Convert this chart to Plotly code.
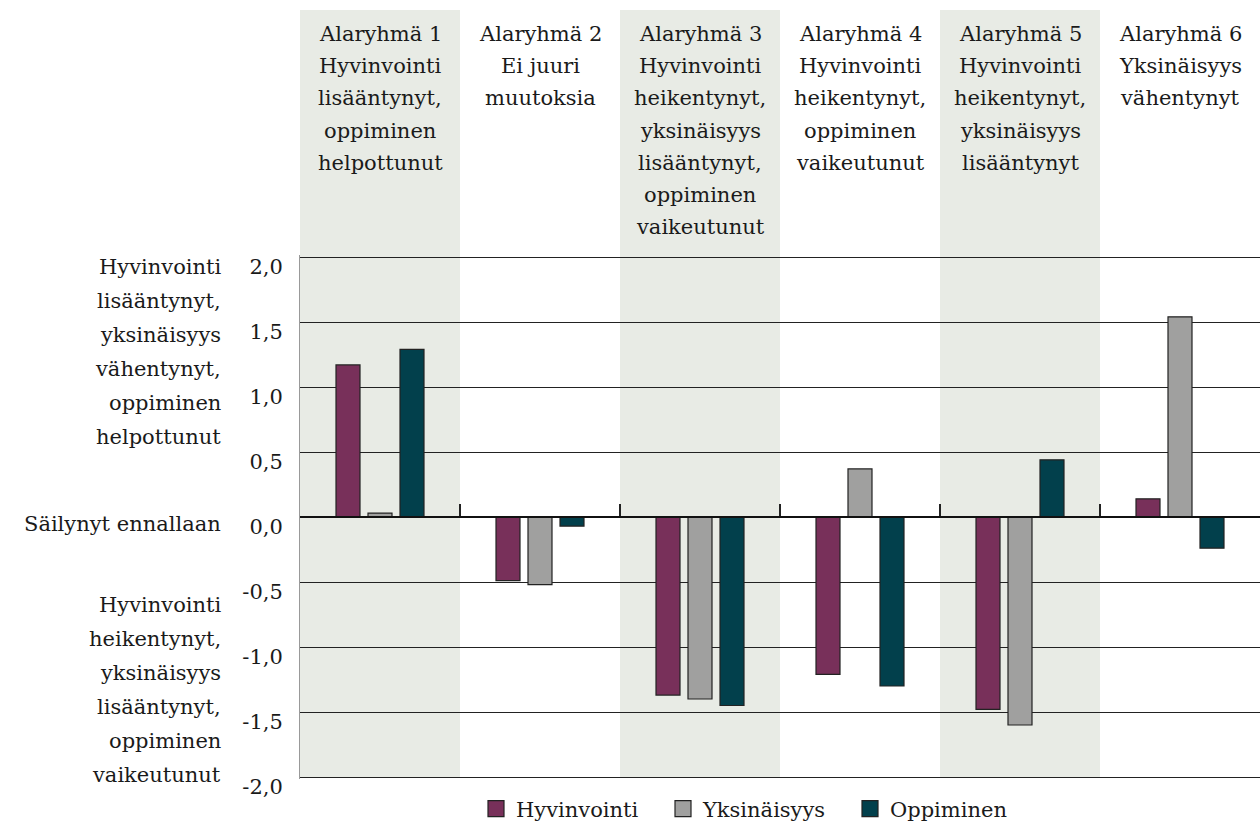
import plotly.graph_objects as go

# ---- data ----
groups = ["Alaryhmä 1", "Alaryhmä 2", "Alaryhmä 3", "Alaryhmä 4", "Alaryhmä 5", "Alaryhmä 6"]
header_lines = [
    ["Alaryhmä 1", "Hyvinvointi", "lisääntynyt,", "oppiminen", "helpottunut"],
    ["Alaryhmä 2", "Ei juuri", "muutoksia"],
    ["Alaryhmä 3", "Hyvinvointi", "heikentynyt,", "yksinäisyys", "lisääntynyt,", "oppiminen", "vaikeutunut"],
    ["Alaryhmä 4", "Hyvinvointi", "heikentynyt,", "oppiminen", "vaikeutunut"],
    ["Alaryhmä 5", "Hyvinvointi", "heikentynyt,", "yksinäisyys", "lisääntynyt"],
    ["Alaryhmä 6", "Yksinäisyys", "vähentynyt"],
]
series_names = ["Hyvinvointi", "Yksinäisyys", "Oppiminen"]
hyvinvointi = [1.17, -0.49, -1.37, -1.21, -1.48, 0.14]
yksinaisyys = [0.03, -0.52, -1.40, 0.37, -1.60, 1.54]
oppiminen = [1.29, -0.07, -1.45, -1.30, 0.44, -0.24]
series_values = [hyvinvointi, yksinaisyys, oppiminen]
series_colors = ["#78305A", "#A0A09F", "#02404C"]

y_ticks = [-2.0, -1.5, -1.0, -0.5, 0.0, 0.5, 1.0, 1.5, 2.0]
y_tick_labels = ["-2,0", "-1,5", "-1,0", "-0,5", "0,0", "0,5", "1,0", "1,5", "2,0"]
upper_label = ["Hyvinvointi", "lisääntynyt,", "yksinäisyys", "vähentynyt,", "oppiminen", "helpottunut"]
middle_label = ["Säilynyt ennallaan"]
lower_label = ["Hyvinvointi", "heikentynyt,", "yksinäisyys", "lisääntynyt,", "oppiminen", "vaikeutunut"]

# ---- layout constants (absolute page pixels) ----
W, H = 1260, 825
UNIT = 130.0                 # pixels per 1.0 on the value axis
PAD = 2                      # plot area extends 2px beyond the +/-2 gridlines
PLOT_L, PLOT_R = 300, 1260
PLOT_T, PLOT_B = 257 - PAD, 777 + PAD
ML, MR, MT, MB = PLOT_L, W - PLOT_R, PLOT_T, H - PLOT_B
PH = PLOT_B - PLOT_T
PW = PLOT_R - PLOT_L
Y_EXT = 2.0 + PAD / UNIT
FONT = "DejaVu Serif"
FS = 21
TXT = "#1a1a1a"
BAND = "#E8EBE5"


def py(p):
    """absolute page pixel y -> paper y"""
    return (PLOT_B - p) / PH


def px(p):
    """absolute page pixel x -> paper x"""
    return (p - PLOT_L) / PW


fig = go.Figure()
for name, vals, col in zip(series_names, series_values, series_colors):
    fig.add_trace(go.Bar(
        x=groups, y=vals, name=name, showlegend=False,
        marker=dict(color=col, line=dict(color="#222222", width=1.2)),
    ))
# legend entries (larger square swatches)
for name, col in zip(series_names, series_colors):
    fig.add_trace(go.Scatter(
        x=[None], y=[None], name=name, mode="markers",
        marker=dict(symbol="square", size=16, color=col, line=dict(color="#222222", width=1.2)),
    ))

shapes = []
for i in range(0, len(groups), 2):
    shapes.append(dict(type="rect", xref="x", yref="paper",
                       x0=i - 0.5, x1=i + 0.5, y0=py(777), y1=py(10),
                       fillcolor=BAND, line=dict(width=0), layer="below"))

annotations = []
for g, lines in zip(groups, header_lines):
    for k, line in enumerate(lines):
        annotations.append(dict(x=g, xref="x", yref="paper", y=py(34 + 32.2 * k),
                                text=line, showarrow=False, xanchor="center", yanchor="middle",
                                font=dict(family=FONT, size=FS, color=TXT)))


def side_block(lines, top, step):
    for k, line in enumerate(lines):
        annotations.append(dict(x=px(223), xref="paper", yref="paper", y=py(top + step * k),
                                text=line, showarrow=False, xanchor="right", yanchor="middle",
                                font=dict(family=FONT, size=FS, color=TXT)))


side_block(upper_label, 267, 34)
side_block(middle_label, 524, 34)
side_block(lower_label, 605, 34)

fig.update_layout(
    width=W, height=H,
    margin=dict(l=ML, r=MR, t=MT, b=MB, pad=0, autoexpand=False),
    paper_bgcolor="white", plot_bgcolor="white",
    barmode="group", bargap=0.4, bargroupgap=0.25,
    font=dict(family=FONT, size=FS, color=TXT),
    shapes=shapes, annotations=annotations,
    showlegend=True,
    legend=dict(orientation="h", x=px(476), xanchor="left", y=py(809), yanchor="middle",
                entrywidth=142, entrywidthmode="pixels",
                font=dict(family=FONT, size=FS, color=TXT), bgcolor="rgba(0,0,0,0)",
                traceorder="normal"),
)
fig.update_yaxes(range=[-Y_EXT, Y_EXT], tickvals=y_ticks, ticktext=y_tick_labels,
                 showgrid=True, gridcolor="#222222", gridwidth=1.2,
                 zeroline=True, zerolinecolor="#111111", zerolinewidth=2,
                 showline=True, linecolor="#999999", linewidth=1,
                 ticks="", ticklabelstandoff=12, ticklabelshift=10,
                 tickfont=dict(family=FONT, size=FS, color=TXT))
fig.update_xaxes(showticklabels=False, anchor="free", position=0.5,
                 showline=True, linecolor="#111111", linewidth=2,
                 ticks="inside", tickson="boundaries", ticklen=12,
                 tickcolor="#222222", tickwidth=1.5, showgrid=False)

page_fix = (
    "var d=document.documentElement,b=document.body;"
    "b.style.margin='0';b.style.padding='0';"
    "d.style.height='825px';b.style.height='825px';"
    "d.style.overflow='hidden';b.style.overflow='hidden';"
)
fig.write_html("out.html", config={"displayModeBar": False}, post_script=page_fix)
